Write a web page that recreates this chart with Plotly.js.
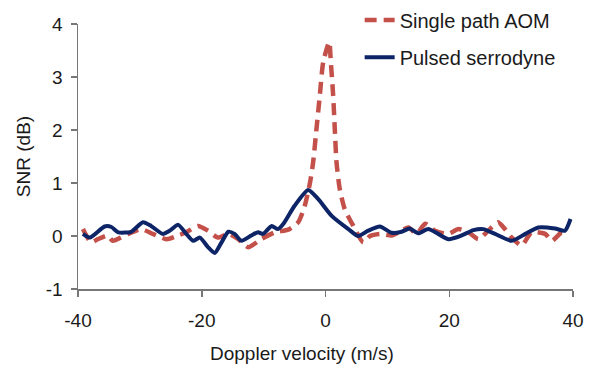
<!DOCTYPE html>
<html>
<head>
<meta charset="utf-8">
<script src="https://cdn.plot.ly/plotly-3.0.1.min.js"></script>
<style>html,body{margin:0;padding:0;background:#fff;}#chart{width:592px;height:365px;}</style>
</head>
<body>
<div id="chart"></div>
<script>
// Single path AOM (dashed red)
const aomX = [-39.2,-37.9,-36.8,-35.2,-34.4,-31.9,-29.8,-27.9,-25.7,-23.8,-22.5,-20.6,-19.0,-17.4,-15.7,-14.1,-12.5,-10.4,-8.2,-6.0,-4.4,-3.35,-2.5,-2.0,-1.46,-0.92,-0.37,0.6,0.86,1.24,1.5,1.78,2.3,3.1,4.5,6.1,7.2,8.8,10.7,11.8,13.4,14.7,16.1,17.7,19.8,21.5,23.1,24.7,26.3,27.9,29.0,30.1,31.7,33.3,35.5,36.6,38.2,39.3];
const aomY = [0.13,-0.12,-0.06,0.01,-0.09,0.04,0.13,0.04,-0.06,0.01,0.07,0.19,0.10,-0.03,0.04,-0.06,-0.21,-0.06,0.07,0.12,0.26,0.57,1.01,1.39,2.02,2.65,3.28,3.66,3.28,2.65,2.02,1.39,0.89,0.51,0.19,-0.12,0.0,0.04,0.01,0.07,0.16,0.04,0.23,0.10,0.04,0.13,0.07,-0.06,0.10,0.26,0.13,-0.03,-0.18,0.07,0.04,-0.09,0.07,0.04];
// Pulsed serrodyne (solid navy)
const serX = [-39.2,-38.1,-35.7,-34.6,-33.5,-31.4,-29.5,-28.2,-26.3,-25.2,-23.8,-22.5,-21.4,-20.3,-19.0,-17.9,-16.8,-15.7,-14.7,-13.6,-12.0,-10.9,-10.1,-8.7,-7.7,-6.8,-5.0,-2.8,-1.2,1.0,3.7,5.3,6.9,8.8,10.7,12.3,13.6,15.0,16.6,18.2,19.9,22.0,23.9,25.5,27.4,30.1,32.3,34.4,37.1,38.7,39.6];
const serY = [0.04,-0.03,0.18,0.17,0.07,0.08,0.26,0.19,0.04,0.10,0.21,0.04,-0.09,-0.03,-0.21,-0.32,-0.12,0.08,0.04,-0.09,0.01,0.07,0.04,0.19,0.13,0.23,0.57,0.87,0.70,0.38,0.13,0.00,0.10,0.18,0.06,0.08,0.14,0.05,0.13,0.04,-0.06,0.01,0.11,0.13,0.04,-0.09,0.04,0.16,0.14,0.10,0.32];
const xTicks = [-40,-20,0,20,40];
const xTickText = ['-40','-20','0','20','40'];
const yTicks = [-1,0,1,2,3,4];
const yTickText = ['-1','0','1','2','3','4'];
const xTitle = 'Doppler velocity (m/s)';
const yTitle = 'SNR (dB)';

const font = {family: 'Liberation Sans, Arial, sans-serif', size: 19, color: '#1a1a1a'};
const legFont = {family: 'Liberation Sans, Arial, sans-serif', size: 20, color: '#1a1a1a'};
const traces = [
  {x: aomX, y: aomY, type: 'scatter', mode: 'lines', name: 'Single path AOM', legend: 'legend',
   line: {color: '#c4504a', width: 4.5, dash: '12px,7px', shape: 'spline', smoothing: 0.6}},
  {x: serX, y: serY, type: 'scatter', mode: 'lines', name: 'Pulsed serrodyne', legend: 'legend2',
   line: {color: '#0d2466', width: 4, shape: 'spline', smoothing: 0.6}}
];
const layout = {
  width: 592, height: 365,
  margin: {l: 78, r: 19, t: 24, b: 76, autoexpand: false},
  paper_bgcolor: '#fff', plot_bgcolor: '#fff',
  font: font,
  showlegend: true,
  legend: {x: 0.569, y: 1.015, xanchor: 'left', yanchor: 'middle', font: legFont, bgcolor: 'rgba(0,0,0,0)'},
  legend2: {x: 0.569, y: 0.875, xanchor: 'left', yanchor: 'middle', font: legFont, bgcolor: 'rgba(0,0,0,0)'},
  xaxis: {range: [-40, 40], tickvals: xTicks, ticktext: xTickText, ticks: 'outside', ticklen: 6, tickcolor: '#777', tickwidth: 1.5,
          showline: true, linecolor: '#777', linewidth: 1.5, showgrid: false, zeroline: false,
          tickfont: font, ticklabelstandoff: 8},
  yaxis: {range: [-1, 4], tickvals: yTicks, ticktext: yTickText, ticks: 'outside', ticklen: 6, tickcolor: '#777', tickwidth: 1.5,
          showline: true, linecolor: '#777', linewidth: 1.5, showgrid: false, zeroline: false,
          tickfont: font, ticklabelstandoff: 4, title: {text: yTitle, font: font, standoff: 10}},
  annotations: [
    {text: xTitle, xref: 'paper', yref: 'paper', x: 0.4525, y: -0.245, xanchor: 'center', yanchor: 'middle',
     showarrow: false, font: font}
  ]
};
Plotly.newPlot('chart', traces, layout, {displayModeBar: false, staticPlot: true});
</script>
</body>
</html>
